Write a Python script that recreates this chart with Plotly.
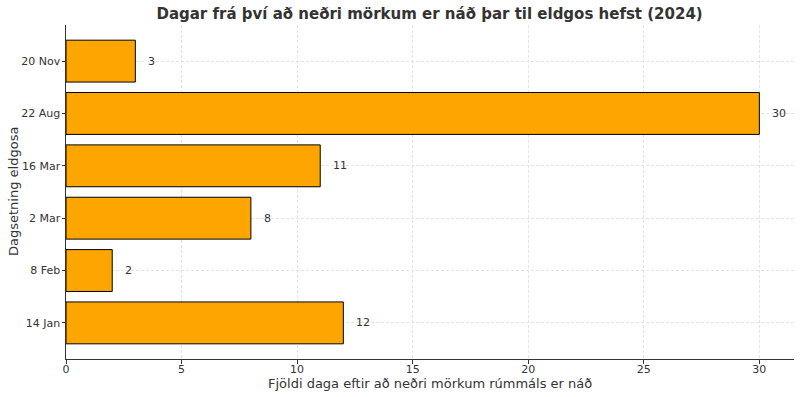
import plotly.graph_objects as go

dates = ["14 Jan", "8 Feb", "2 Mar", "16 Mar", "22 Aug", "20 Nov"]
days = [12, 2, 8, 11, 30, 3]
x_ticks = [0, 5, 10, 15, 20, 25, 30]

title = "Dagar frá því að neðri mörkum er náð þar til eldgos hefst (2024)"
xlabel = "Fjöldi daga eftir að neðri mörkum rúmmáls er náð"
ylabel = "Dagsetning eldgosa"

fig = go.Figure()
fig.add_trace(go.Bar(
    x=days, y=list(range(len(dates))), orientation="h", width=0.8,
    marker=dict(color="#FFA500", line=dict(color="#000000", width=1)),
    hoverinfo="skip",
))

for i, v in enumerate(days):
    fig.add_annotation(x=v, y=i, text=str(v), showarrow=False, xanchor="left",
                       xshift=11, font=dict(size=11, color="#333333"))

fig.add_annotation(xref="paper", yref="paper", x=0.5, y=0, yshift=-24,
                   xanchor="center", yanchor="middle", showarrow=False,
                   text=xlabel, font=dict(size=13, color="#333333"))
fig.add_annotation(xref="paper", yref="paper", x=0, y=0.5, xshift=-53,
                   xanchor="center", yanchor="middle", showarrow=False, textangle=-90,
                   text=ylabel, font=dict(size=13, color="#333333"))

fig.update_layout(
    width=800, height=397,
    margin=dict(l=66, r=6, t=25, b=38),
    plot_bgcolor="white", paper_bgcolor="white",
    font=dict(family="DejaVu Sans", color="#333333"),
    title=dict(text="<b>" + title + "</b>", x=0.537, xanchor="center", y=0.965, yanchor="middle",
               font=dict(size=15, color="#333333")),
    showlegend=False,
    bargap=0.2,
)
fig.update_xaxes(
    range=[0, 31.5], tickvals=x_ticks, ticks="outside", ticklen=3.5, tickcolor="#333333",
    showline=True, linecolor="#333333", linewidth=1, automargin=False,
    showgrid=True, gridcolor="#e3e3e3", griddash="3px,2px", gridwidth=1,
    zeroline=False, tickfont=dict(size=11, color="#333333"), ticklabelstandoff=-4,
)
fig.update_yaxes(
    range=[-0.69, 5.69], tickvals=list(range(len(dates))), ticktext=dates,
    ticks="outside", ticklen=3.5, tickcolor="#333333",
    showline=True, linecolor="#333333", linewidth=1, automargin=False,
    showgrid=True, gridcolor="#e3e3e3", griddash="3px,2px", gridwidth=1,
    zeroline=False, tickfont=dict(size=11, color="#333333"), ticklabelstandoff=-1,
)
fig.write_html("out.html")
